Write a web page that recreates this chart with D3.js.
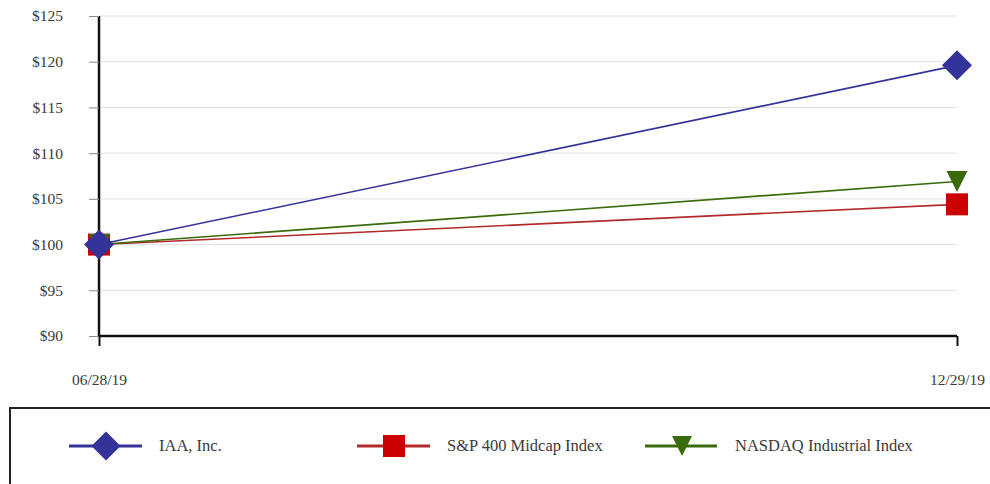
<!DOCTYPE html>
<html><head><meta charset="utf-8">
<script src="https://cdn.jsdelivr.net/npm/d3@7"></script>
<style>body{margin:0;background:#fff}svg{display:block}</style>
</head><body>
<svg id="c" width="990" height="484"></svg>
<script>
const dates = ["06/28/19", "12/29/19"];
const seriesNames = ["IAA, Inc.", "S&P 400 Midcap Index", "NASDAQ Industrial Index"];
const iaa = [100, 119.6];
const sp400 = [100, 104.4];
const nasdaq = [100, 106.9];
const yTicks = [90, 95, 100, 105, 110, 115, 120, 125];

const series = [
  {name: seriesNames[1], values: sp400, color: "#cc0000", line: "#b22a2a", marker: "square"},
  {name: seriesNames[2], values: nasdaq, color: "#3a6b0a", line: "#3a6b0a", marker: "triangle"},
  {name: seriesNames[0], values: iaa, color: "#333399", line: "#333399", marker: "diamond"}
];
const legendOrder = [series[2], series[0], series[1]];

const svg = d3.select("#c");
const font = "'Liberation Serif','Times New Roman',serif";
const x = d3.scalePoint().domain(dates).range([99, 957]);
const y = d3.scaleLinear().domain([90, 125]).range([336, 16]);

// gridlines
svg.append("g").selectAll("line").data(yTicks.filter(d => d > 90)).join("line")
  .attr("x1", 99).attr("x2", 957).attr("y1", d => y(d)).attr("y2", d => y(d))
  .attr("stroke", "#e0e0e0").attr("stroke-width", 1);

// y axis
const ya = svg.append("g").attr("transform", "translate(99,0)")
  .call(d3.axisLeft(y).tickValues(yTicks).tickSize(10).tickPadding(26).tickFormat(d => "$" + d));
ya.select(".domain").attr("stroke", "#111").attr("stroke-width", 2.5).attr("d", `M0,${y(125)}V${y(90)}`);
ya.selectAll(".tick line").attr("stroke", "#888").attr("stroke-width", 1);
ya.selectAll("text").attr("font-family", font).attr("font-size", 15.5).attr("fill", "#3a3a3a");

// x axis
const xa = svg.append("g").attr("transform", "translate(0,336)")
  .call(d3.axisBottom(x).tickSize(10).tickPadding(28));
xa.select(".domain").attr("stroke", "#111").attr("stroke-width", 2.5).attr("d", "M99,0H957");
xa.selectAll(".tick line").attr("stroke", "#111").attr("stroke-width", 2);
xa.selectAll("text").attr("font-family", font).attr("font-size", 15.5).attr("fill", "#3a3a3a");

function markerPath(m, s) {
  const p = d3.path();
  if (m === "square") {
    p.rect(-s / 2, -s / 2, s, s);
  } else if (m === "diamond") {
    p.moveTo(0, -s / 2); p.lineTo(s / 2, 0); p.lineTo(0, s / 2); p.lineTo(-s / 2, 0); p.closePath();
  } else {
    p.moveTo(-s / 2, -s / 2); p.lineTo(s / 2, -s / 2); p.lineTo(0, s / 2); p.closePath();
  }
  return p.toString();
}
const markerSize = {square: 22, diamond: 30, triangle: 21};
const legendSize = {square: 22, diamond: 29, triangle: 20};

const line = d3.line().x((d, i) => x(dates[i])).y(d => y(d));
series.forEach(s => {
  svg.append("path").attr("d", line(s.values)).attr("fill", "none")
    .attr("stroke", s.line).attr("stroke-width", 1.6);
});
series.forEach(s => {
  svg.append("g").selectAll("path").data(s.values).join("path")
    .attr("d", markerPath(s.marker, markerSize[s.marker]))
    .attr("transform", (d, i) => `translate(${x(dates[i])},${y(d)})`)
    .attr("fill", s.color);
});

// legend
svg.append("rect").attr("x", 10).attr("y", 408).attr("width", 990).attr("height", 80)
  .attr("fill", "none").attr("stroke", "#222").attr("stroke-width", 2);
const legX = [[69, 142, 106, 159], [357, 430, 394, 447], [645, 717, 682, 735]];
const legY = 446;
legendOrder.forEach((s, i) => {
  const [l1, l2, mx, tx] = legX[i];
  const g = svg.append("g");
  g.append("line").attr("x1", l1).attr("x2", l2).attr("y1", legY).attr("y2", legY)
    .attr("stroke", s.line).attr("stroke-width", 3);
  g.append("path").attr("d", markerPath(s.marker, legendSize[s.marker]))
    .attr("transform", `translate(${mx},${legY})`).attr("fill", s.color);
  g.append("text").attr("x", tx).attr("y", legY + 5).text(s.name)
    .attr("font-family", font).attr("font-size", 16.5).attr("fill", "#3a3a3a");
});
</script>
</body></html>
